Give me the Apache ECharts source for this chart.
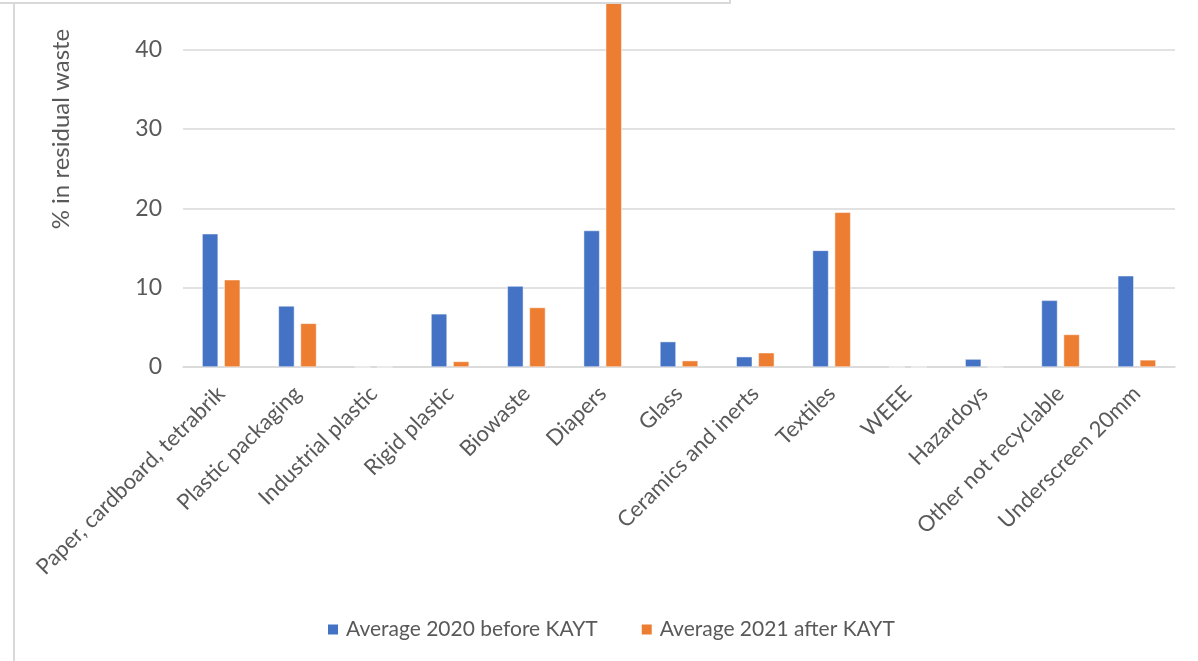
<!DOCTYPE html>
<html>
<head>
<meta charset="utf-8">
<script src="https://cdn.jsdelivr.net/npm/echarts@6/dist/echarts.min.js"></script>
<style>
  html, body { margin: 0; padding: 0; background: #fff; }
  #chart { width: 1198px; height: 661px; }
</style>
</head>
<body>
<div id="chart"></div>
<script>
// residual waste composition, % by fraction
const categories = [
  'Paper, cardboard, tetrabrik', 'Plastic packaging', 'Industrial plastic',
  'Rigid plastic', 'Biowaste', 'Diapers', 'Glass', 'Ceramics and inerts',
  'Textiles', 'WEEE', 'Hazardoys', 'Other not recyclable', 'Underscreen 20mm'
]
const avg2020 = [16.8, 7.7, 0, 6.7, 10.2, 17.2, 3.2, 1.3, 14.7, 0, 1.0, 8.4, 11.5]
const avg2021 = [11.0, 5.5, 0, 0.7, 7.5, 48, 0.8, 1.8, 19.5, 0, 0, 4.1, 0.9]
const seriesNames = ['Average 2020 before KAYT', 'Average 2021 after KAYT']

const font = 'Lato, "Liberation Sans", sans-serif'
const textColor = '#595959'
const lineColor = '#d9d9d9'

const chart = echarts.init(document.getElementById('chart'))

chart.setOption({
  animation: false,
  backgroundColor: '#fff',
  textStyle: { fontFamily: font },
  grid: {
    left: 183,
    right: 23,
    top: -109,
    bottom: 294,
    containLabel: false,
    outerBoundsMode: 'none'
  },
  legend: {
    data: seriesNames,
    left: 321,
    top: 614,
    itemWidth: 12,
    itemHeight: 12,
    itemGap: 42,
    icon: 'rect',
    textStyle: { fontFamily: font, fontSize: 21, color: textColor, padding: [0, 0, 0, 2] }
  },
  xAxis: {
    type: 'category',
    data: categories,
    axisTick: { show: false },
    axisLine: { lineStyle: { color: lineColor, width: 1.5 } },
    axisLabel: {
      interval: 0,
      rotate: 45,
      margin: 23,
      fontFamily: font,
      fontSize: 22,
      color: textColor
    }
  },
  yAxis: {
    type: 'value',
    min: 0,
    max: 60,
    interval: 10,
    name: '% in residual waste',
    nameLocation: 'middle',
    nameGap: 110,
    nameTextStyle: { fontFamily: font, fontSize: 24, color: textColor },
    axisLine: { show: false },
    axisTick: { show: false },
    axisLabel: { margin: 21, fontFamily: font, fontSize: 23, color: textColor },
    splitLine: { lineStyle: { color: lineColor, width: 1.6 } }
  },
  series: [
    {
      name: seriesNames[0],
      type: 'bar',
      data: avg2020,
      barWidth: 16,
      barGap: '38%',
      itemStyle: { color: '#4472C4', borderColor: '#fff', borderWidth: 0.5 }
    },
    {
      name: seriesNames[1],
      type: 'bar',
      data: avg2021,
      barWidth: 16,
      barGap: '38%',
      itemStyle: { color: '#ED7D31', borderColor: '#fff', borderWidth: 0.5 }
    }
  ],
  graphic: [
    // frame of the cropped screenshot
    { type: 'rect', z: 100, shape: { x: 0, y: 0, width: 732, height: 4 }, style: { fill: '#fff' } },
    { type: 'line', z: 101, shape: { x1: 0, y1: 3, x2: 730, y2: 3 }, style: { stroke: lineColor, lineWidth: 2 } },
    { type: 'line', z: 101, shape: { x1: 730, y1: 0, x2: 730, y2: 4 }, style: { stroke: lineColor, lineWidth: 2 } },
    { type: 'line', z: 101, shape: { x1: 14, y1: 3, x2: 14, y2: 661 }, style: { stroke: lineColor, lineWidth: 2 } }
  ]
})
</script>
</body>
</html>
